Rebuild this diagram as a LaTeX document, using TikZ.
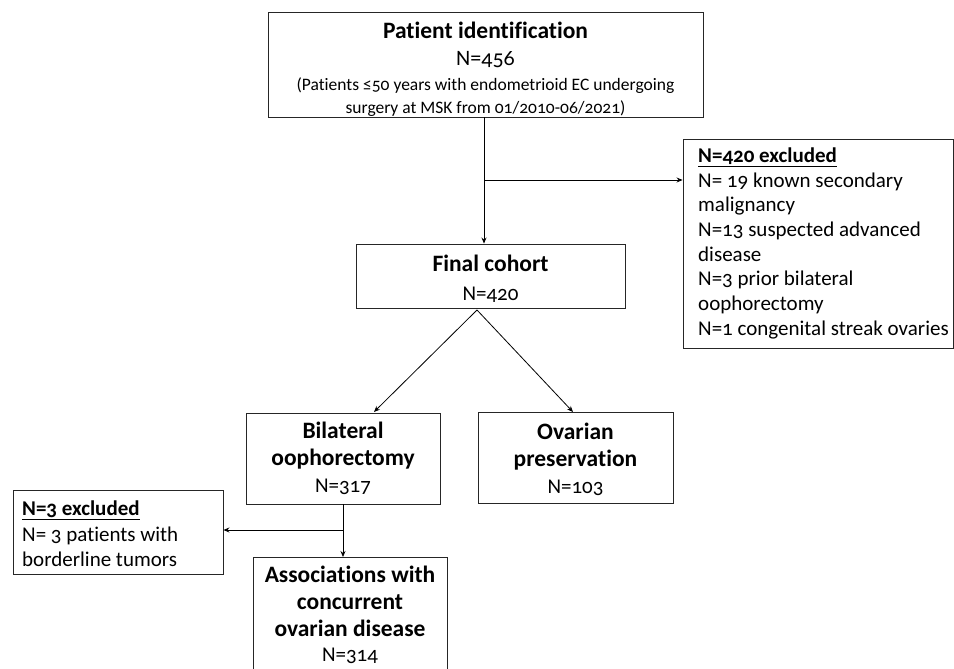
\documentclass[tikz,border=0pt]{standalone}
\usepackage{fontspec}
\setmainfont{Carlito}[Numbers=OldStyle,Ligatures=NoCommon]
\usetikzlibrary{arrows.meta,calc}
\newcommand\bxl[1]{{\fontsize{23.5}{27}\selectfont\bfseries #1}}
\begin{document}
\begin{tikzpicture}[x=1pt,y=-1pt,
  box/.style={draw=black!85,line width=0.9pt,inner sep=0pt,align=center,font=\fontsize{21}{27}\selectfont},
  txt/.style={inner sep=0pt,align=left,anchor=north west,font=\fontsize{21}{24.7}\selectfont},
  arr/.style={line width=0.8pt,-{Stealth[length=6pt,width=5pt]}}]
\clip (0,0) rectangle (954,669);
\fill[white] (0,0) rectangle (954,669);
% boxes
\node[box,minimum width=435pt,minimum height=105pt,font=\fontsize{17.5}{23}\selectfont] (top) at (485.5,64.5)
  {\rule{0pt}{27pt}\bxl{Patient identification}\\[4pt]
   {\fontsize{22}{23}\selectfont N=456}\\[2pt]
   (Patients ≤50 years with endometrioid EC undergoing\\
   surgery at MSK from 01/2010-06/2021)};
\node[box,minimum width=269pt,minimum height=64pt] (final) at (490.5,276)
  {\rule{0pt}{21pt}\bxl{Final cohort}\\[2pt]N=420};
\node[box,minimum width=270pt,minimum height=209pt] (exc1) at (818,243.5) {};
\node[txt] (exc1t) at (698,147.5)
  {\textbf{\underline{N=420 excluded}}\\
   N= 19 known secondary\\
   malignancy\\
   N=13 suspected advanced\\
   disease\\
   N=3 prior bilateral\\
   oophorectomy\\
   N=1 congenital streak ovaries};
\node[box,minimum width=194pt,minimum height=91pt] (bilat) at (343,458.5)
  {\bxl{Bilateral}\\\bxl{oophorectomy}\\N=317};
\node[box,minimum width=195pt,minimum height=91pt] (ovar) at (575.5,457.5)
  {\rule{0pt}{21pt}\bxl{Ovarian}\\\bxl{preservation}\\N=103};
\node[box,minimum width=210pt,minimum height=84pt] (exc2) at (118,532) {};
\node[txt,font=\fontsize{21}{25.5}\selectfont] (exc2t) at (22,501)
  {\textbf{\underline{N=3 excluded}}\\
   N= 3 patients with\\
   borderline tumors};
\node[box,minimum width=194pt,minimum height=124pt,anchor=north] (assoc) at (350,557)
  {\bxl{Associations with}\\\bxl{concurrent}\\\bxl{ovarian disease}\\[-2pt]N=314\rule[-11pt]{0pt}{1pt}};
% connectors
\coordinate (br1) at (484,180);
\coordinate (apex) at (477,310);
\coordinate (tipb) at (374,412);
\coordinate (tipo) at (573,412);
\coordinate (br2) at (343,530);
\draw[arr] (top.south -| br1) -- (final.north -| br1);
\draw[arr] (br1) -- (br1 -| exc1.west);
\draw[arr] (apex) -- (tipb);
\draw[arr] (apex) -- (tipo);
\draw[arr] (bilat.south) -- (bilat.south |- assoc.north);
\draw[arr] (br2) -- (br2 -| exc2.east);
\end{tikzpicture}
\end{document}
